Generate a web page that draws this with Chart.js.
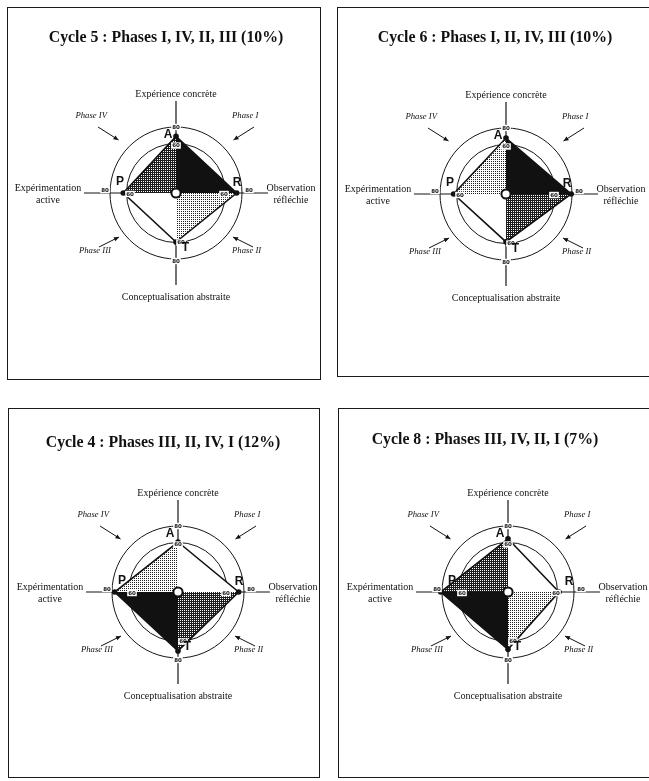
<!DOCTYPE html>
<html><head><meta charset="utf-8">
<script src="https://cdn.jsdelivr.net/npm/chart.js@4.4.1/dist/chart.umd.min.js"></script>
<style>
html,body{margin:0;padding:0;background:#fff;}
body{width:649px;height:781px;overflow:hidden;position:relative;}
.box{position:absolute;border:1px solid #1a1a1a;box-sizing:border-box;}
canvas{position:absolute;}
.title{position:absolute;font-family:'Liberation Serif',serif;font-weight:bold;font-size:15.8px;white-space:nowrap;transform:translate(-50%,-50%);color:#111;}
</style></head>
<body>
<script>
// ---- data ----
const axisLabels = [['Expérience concrète'], ['Observation', 'réfléchie'], ['Conceptualisation abstraite'], ['Expérimentation', 'active']];
const pointLetters = ['A', 'R', 'T', 'P'];
const phaseNames = ['Phase I', 'Phase II', 'Phase III', 'Phase IV'];
const ringTicks = [60, 80];
const cycleTitles = ['Cycle 5 : Phases I, IV, II, III (10%)', 'Cycle 6 : Phases I, II, IV, III (10%)', 'Cycle 4 : Phases III, II, IV, I (12%)', 'Cycle 8 : Phases III, IV, II, I (7%)'];
const cycle5Values = [68.6, 73.5, 59.4, 63.9];
const cycle6Values = [67.9, 79.0, 58.0, 63.5];
const cycle4Values = [60.6, 73.5, 71.5, 76.8];
const cycle8Values = [64.6, 61.8, 69.5, 81.6];
const cycle5Order = [1, 4, 2, 3];
const cycle6Order = [1, 2, 4, 3];
const cycle4Order = [3, 2, 4, 1];
const cycle8Order = [3, 4, 2, 1];

// ---- layout ----
const panelLayout = [
  {x: 7, y: 7, w: 314, h: 373, cx: 176, cy: 193, tx: 166, ty: 37},
  {x: 337, y: 7, w: 318, h: 370, cx: 506, cy: 194, tx: 495, ty: 37},
  {x: 8, y: 408, w: 312, h: 370, cx: 178, cy: 592, tx: 163, ty: 442},
  {x: 338, y: 408, w: 318, h: 370, cx: 508, cy: 592, tx: 485, ty: 439}
];
const cycles = [
  {title: cycleTitles[0], values: cycle5Values, order: cycle5Order},
  {title: cycleTitles[1], values: cycle6Values, order: cycle6Order},
  {title: cycleTitles[2], values: cycle4Values, order: cycle4Order},
  {title: cycleTitles[3], values: cycle8Values, order: cycle8Order}
];
const AXIS_LEN = 92, OUTER_PX = 66;
const scaleMax = ringTicks[ringTicks.length - 1] * AXIS_LEN / OUTER_PX;

function makePattern(ctx, bg, fg) {
  const c = document.createElement('canvas'); c.width = 2; c.height = 2;
  const g = c.getContext('2d');
  g.fillStyle = bg; g.fillRect(0, 0, 2, 2);
  g.fillStyle = fg; g.fillRect(0, 0, 1, 1);
  return ctx.createPattern(c, 'repeat');
}

function tickBox(ctx, x, y, text) {
  ctx.font = 'bold 5.5px "DejaVu Sans"';
  const w = ctx.measureText(text).width + 2;
  ctx.fillStyle = '#fff';
  ctx.fillRect(x - w / 2, y - 3.2, w, 6.4);
  ctx.fillStyle = '#111';
  ctx.textAlign = 'center'; ctx.textBaseline = 'middle';
  ctx.fillText(text, x, y + 0.3);
}

function arrow(ctx, x1, y1, x2, y2) {
  ctx.strokeStyle = '#111'; ctx.fillStyle = '#111'; ctx.lineWidth = 1;
  ctx.beginPath(); ctx.moveTo(x1, y1); ctx.lineTo(x2, y2); ctx.stroke();
  const a = Math.atan2(y2 - y1, x2 - x1), L = 5, W = 2.2;
  ctx.beginPath();
  ctx.moveTo(x2, y2);
  ctx.lineTo(x2 - L * Math.cos(a) + W * Math.sin(a), y2 - L * Math.sin(a) - W * Math.cos(a));
  ctx.lineTo(x2 - L * Math.cos(a) - W * Math.sin(a), y2 - L * Math.sin(a) + W * Math.cos(a));
  ctx.closePath(); ctx.fill();
}

const decor = {
  id: 'decor',
  afterDatasetsDraw(chart) {
    const s = chart.scales.r, ctx = chart.ctx;
    const cx = s.xCenter, cy = s.yCenter;
    const k = s.getDistanceFromCenterForValue(ringTicks[1]) / OUTER_PX;
    ctx.save();
    // ring tick labels on each axis
    const outerOff = [[0, 0], [7, -3], [0, 2], [-5, -3]];
    const innerOff = [[0, 2], [-1.5, 1], [5, 0], [3.5, 1]];
    for (let i = 0; i < 4; i++) {
      const po = s.getPointPositionForValue(i, ringTicks[1]);
      tickBox(ctx, po.x + outerOff[i][0], po.y + outerOff[i][1], String(ringTicks[1]));
      const pi = s.getPointPositionForValue(i, ringTicks[0]);
      tickBox(ctx, pi.x + innerOff[i][0], pi.y + innerOff[i][1], String(ringTicks[0]));
    }
    // centre O
    ctx.beginPath(); ctx.arc(cx, cy, 4.6, 0, Math.PI * 2);
    ctx.fillStyle = '#fff'; ctx.fill(); ctx.lineWidth = 2; ctx.strokeStyle = '#111'; ctx.stroke();
    // letters
    const letterPos = [[-8, -58.5], [61, -10.5], [9.5, 55], [-56, -11.5]];
    ctx.font = 'bold 12px "Liberation Sans"';
    ctx.fillStyle = '#111'; ctx.textAlign = 'center'; ctx.textBaseline = 'middle';
    pointLetters.forEach((L, i) => ctx.fillText(L, cx + letterPos[i][0] * k, cy + letterPos[i][1] * k));
    // axis labels
    ctx.font = '10px "Liberation Serif"';
    const labelPos = [[0, -99], [115, -5], [0, 104], [-128, -5]];
    axisLabels.forEach((lines, i) => {
      lines.forEach((t, j) => ctx.fillText(t, cx + labelPos[i][0], cy + labelPos[i][1] + j * 12.5));
    });
    // phase labels and arrows
    ctx.font = 'italic 8.7px "Liberation Serif"';
    const phaseText = [[56, -77, 'left'], [56, 58, 'left'], [-65, 58, 'right'], [-69, -77, 'right']];
    const phaseArrow = [[78, -66, 57.5, -53], [77, 54, 57, 44], [-77, 54, -57, 44], [-78, -66, -57.5, -53]];
    phaseNames.forEach((n, i) => {
      ctx.textAlign = phaseText[i][2];
      ctx.fillStyle = '#111';
      ctx.fillText(n, cx + phaseText[i][0] * k, cy + phaseText[i][1] * k);
      const a = phaseArrow[i];
      arrow(ctx, cx + a[0] * k, cy + a[1] * k, cx + a[2] * k, cy + a[3] * k);
    });
    ctx.restore();
  }
};

panelLayout.forEach((L, idx) => {
  const cyc = cycles[idx];
  const box = document.createElement('div');
  box.className = 'box';
  Object.assign(box.style, {left: L.x + 'px', top: L.y + 'px', width: L.w + 'px', height: L.h + 'px'});
  document.body.appendChild(box);
  const cv = document.createElement('canvas');
  cv.width = L.w; cv.height = L.h;
  Object.assign(cv.style, {left: L.x + 'px', top: L.y + 'px', width: L.w + 'px', height: L.h + 'px'});
  document.body.appendChild(cv);
  const t = document.createElement('div');
  t.className = 'title'; t.textContent = cyc.title;
  Object.assign(t.style, {left: L.tx + 'px', top: L.ty + 'px'});
  document.body.appendChild(t);

  const ctx = cv.getContext('2d');
  const fills = [
    '#111111',
    makePattern(ctx, '#1c1c1c', '#ffffff'),
    makePattern(ctx, '#ffffff', '#222222'),
    '#ffffff'
  ];
  const datasets = [{
    data: cyc.values, fill: false, borderColor: '#111', borderWidth: 1.6,
    pointRadius: 2.8, pointBackgroundColor: '#111', pointBorderWidth: 0
  }];
  for (let p = 0; p < 4; p++) {
    const d = [0, 0, 0, 0];
    d[p] = cyc.values[p];
    d[(p + 1) % 4] = cyc.values[(p + 1) % 4];
    const rank = cyc.order.indexOf(p + 1);
    datasets.push({data: d, fill: true, backgroundColor: fills[rank], borderColor: 'rgba(0,0,0,0)', borderWidth: 0, pointRadius: 0});
  }
  new Chart(ctx, {
    type: 'radar',
    data: {labels: axisLabels.map(a => a.join(' ')), datasets},
    options: {
      responsive: false, animation: false, devicePixelRatio: 1,
      layout: {padding: {left: L.cx - L.x - AXIS_LEN, right: L.x + L.w - L.cx - AXIS_LEN, top: L.cy - L.y - AXIS_LEN, bottom: L.y + L.h - L.cy - AXIS_LEN}},
      plugins: {legend: {display: false}, tooltip: {enabled: false}, title: {display: false}},
      elements: {line: {tension: 0}},
      scales: {
        r: {
          min: 0, max: scaleMax,
          afterBuildTicks: (sc) => { sc.ticks = [0].concat(ringTicks).map(v => ({value: v})); },
          ticks: {display: false},
          pointLabels: {display: false},
          grid: {circular: true, color: '#151515', lineWidth: 1},
          angleLines: {display: true, color: '#151515', lineWidth: 1.2}
        }
      }
    },
    plugins: [decor]
  });
});
</script>
</body></html>
